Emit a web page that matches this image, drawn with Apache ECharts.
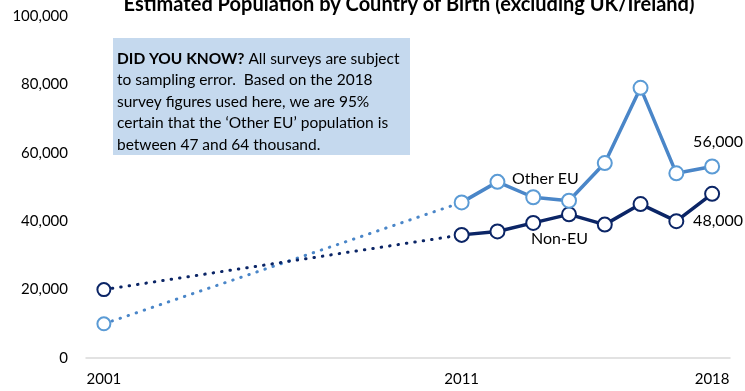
<!DOCTYPE html>
<html><head><meta charset="utf-8">
<script src="https://cdn.jsdelivr.net/npm/echarts@6/dist/echarts.min.js"></script>
<style>html,body{margin:0;padding:0;background:#fff}#c{width:745px;height:391px}</style>
</head><body><div id="c"></div>
<script>
const years = [2001, 2011, 2012, 2013, 2014, 2015, 2016, 2017, 2018];
const otherEU = [10000, 45500, 51500, 47000, 46000, 57000, 79000, 54000, 56000];
const nonEU = [20000, 36000, 37000, 39500, 42000, 39000, 45000, 40000, 48000];
const xTickLabels = [2001, 2011, 2018];
const yTicks = [0, 20000, 40000, 60000, 80000, 100000];
const titleText = 'Estimated Population by Country of Birth (excluding UK/Ireland)';
const noteLines = ['{b|DID YOU KNOW?} All surveys are subject', 'to sampling error.  Based on the 2018', 'survey figures used here, we are 95%', 'certain that the \u2018Other EU\u2019 population is', 'between 47 and 64 thousand.'];

const FONT = 'Lato';
const cEU = '#4a86c8', cEUm = '#5b9bd5', cNon = '#0b2566';
const pairs = (vals, from, to) => years.slice(from, to).map((y, i) => [y, vals[from + i]]);
const fmt = v => v.toLocaleString('en-US');

const chart = echarts.init(document.getElementById('c'));
chart.setOption({
  animation: false,
  textStyle: { fontFamily: FONT },
  title: { text: titleText, left: 404, textAlign: 'center', top: -10,
    textStyle: { fontFamily: FONT, fontSize: 20, fontWeight: 'bold', color: '#000' } },
  grid: { left: 86, right: 15, top: 16, bottom: 33 },
  xAxis: { type: 'value', min: 2000.5, max: 2018.5,
    axisLine: { show: true, lineStyle: { color: '#d9d9d9', width: 1.5 } },
    axisTick: { show: false }, splitLine: { show: false },
    axisLabel: { customValues: xTickLabels, formatter: v => String(v), color: '#000', fontSize: 15, margin: 14, fontFamily: FONT } },
  yAxis: { type: 'value', min: 0, max: 100000, interval: 20000,
    axisLine: { show: false }, axisTick: { show: false }, splitLine: { show: false },
    axisLabel: { formatter: v => fmt(v), color: '#000', fontSize: 15, margin: 18, fontFamily: FONT } },
  series: [
    { type: 'line', data: pairs(otherEU, 0, 2), symbol: 'none', z: 1,
      lineStyle: { color: cEU, width: 3, type: [0.5, 8], cap: 'round' } },
    { type: 'line', data: pairs(nonEU, 0, 2), symbol: 'none', z: 1,
      lineStyle: { color: cNon, width: 3, type: [0.5, 8], cap: 'round' } },
    { type: 'line', data: pairs(otherEU, 0, 1), symbol: 'circle', symbolSize: 13, z: 3,
      itemStyle: { color: '#fff', borderColor: cEUm, borderWidth: 2 } },
    { type: 'line', data: pairs(nonEU, 0, 1), symbol: 'circle', symbolSize: 13, z: 3,
      itemStyle: { color: '#fff', borderColor: cNon, borderWidth: 2 } },
    { type: 'line', data: pairs(nonEU, 1, years.length), symbol: 'circle', symbolSize: 14, z: 2,
      lineStyle: { color: cNon, width: 3.5 },
      itemStyle: { color: '#fff', borderColor: cNon, borderWidth: 2 },
      label: { show: true, position: 'bottom', distance: 11, offset: [6, 0], fontSize: 16, color: '#000',
        formatter: p => p.dataIndex === years.length - 2 ? fmt(p.value[1]) : '' } },
    { type: 'line', data: pairs(otherEU, 1, years.length), symbol: 'circle', symbolSize: 14, z: 4,
      lineStyle: { color: cEU, width: 3.5 },
      itemStyle: { color: '#fff', borderColor: cEUm, borderWidth: 2 },
      label: { show: true, position: 'top', distance: 9, offset: [6, 0], fontSize: 16, color: '#000',
        formatter: p => p.dataIndex === years.length - 2 ? fmt(p.value[1]) : '' } }
  ],
  graphic: [
    { type: 'rect', shape: { x: 113, y: 38, width: 297, height: 117 }, style: { fill: '#c5d9ee' }, z: 0 },
    { type: 'text', x: 117, y: 48, z: 5, style: { text: noteLines.join('\n'), fontFamily: FONT, fontSize: 15.5, lineHeight: 21.5, fill: '#000',
      rich: { b: { fontWeight: 'bold', fontFamily: FONT, fontSize: 15.5 } } } },
    { type: 'text', x: 512, y: 171, z: 5, style: { text: 'Other EU', fontFamily: FONT, fontSize: 16, fill: '#000' } },
    { type: 'text', x: 531, y: 231, z: 5, style: { text: 'Non-EU', fontFamily: FONT, fontSize: 16, fill: '#000' } }
  ]
});
</script></body></html>
